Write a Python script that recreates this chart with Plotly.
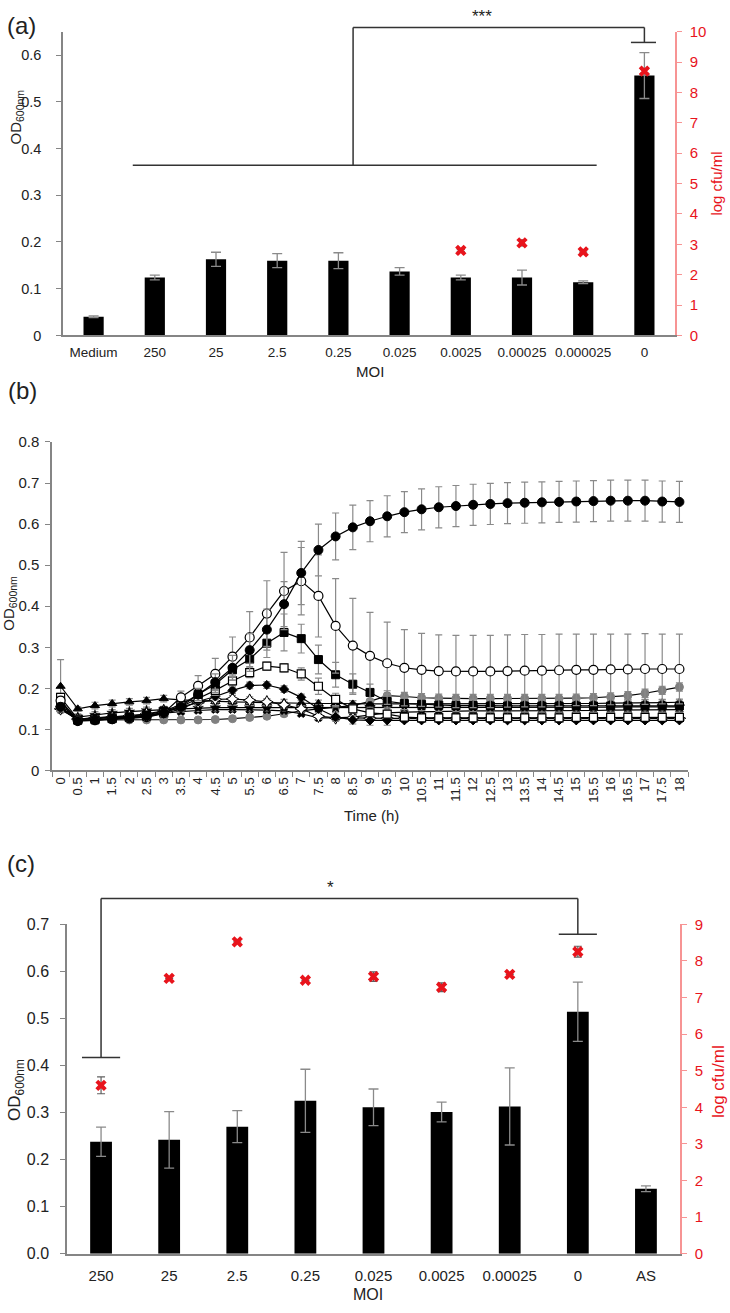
import plotly.graph_objects as go

W, H = 730, 1313

# ---------- panel (a) ----------
moi_a = ["Medium", "250", "25", "2.5", "0.25", "0.025", "0.0025", "0.00025", "0.000025", "0"]
od_a = [0.040, 0.124, 0.163, 0.160, 0.160, 0.137, 0.124, 0.124, 0.114, 0.556]
od_a_err = [0.002, 0.005, 0.015, 0.015, 0.017, 0.008, 0.005, 0.016, 0.003, 0.049]
cfu_a = [None, None, None, None, None, None, 2.8, 3.05, 2.75, 8.7]
cfu_a_err = [0, 0, 0, 0, 0, 0, 0.03, 0.1, 0.03, 0.06]

# ---------- panel (b) ----------
time_h = ["0", "0.5", "1", "1.5", "2", "2.5", "3", "3.5", "4", "4.5", "5", "5.5",
          "6", "6.5", "7", "7.5", "8", "8.5", "9", "9.5", "10", "10.5", "11", "11.5",
          "12", "12.5", "13", "13.5", "14", "14.5", "15", "15.5", "16", "16.5", "17",
          "17.5", "18"]

od_ctrl = [0.155, 0.120, 0.122, 0.125, 0.128, 0.132, 0.140, 0.155, 0.185, 0.215, 0.250, 0.293,
           0.343, 0.405, 0.481, 0.537, 0.570, 0.592, 0.607, 0.619, 0.629, 0.636, 0.641, 0.644,
           0.647, 0.649, 0.651, 0.652, 0.653, 0.654, 0.655, 0.656, 0.657, 0.657, 0.657, 0.655, 0.654]
od_ctrl_err = [0.010, 0.004, 0.004, 0.004, 0.005, 0.006, 0.008, 0.010, 0.015, 0.020, 0.030, 0.040,
               0.050, 0.055, 0.077, 0.063, 0.057, 0.054, 0.050, 0.050, 0.050, 0.050, 0.050, 0.050,
               0.050, 0.050, 0.050, 0.050, 0.050, 0.050, 0.050, 0.050, 0.050, 0.050, 0.050, 0.050, 0.050]

od_ocirc = [0.170, 0.122, 0.123, 0.125, 0.127, 0.130, 0.140, 0.178, 0.206, 0.235, 0.277, 0.324,
            0.382, 0.437, 0.461, 0.425, 0.352, 0.304, 0.279, 0.261, 0.250, 0.245, 0.242, 0.241,
            0.241, 0.241, 0.242, 0.243, 0.243, 0.244, 0.245, 0.245, 0.246, 0.246, 0.247, 0.247, 0.247]
od_ocirc_err = [0.010, 0.005, 0.005, 0.005, 0.005, 0.006, 0.008, 0.015, 0.025, 0.038, 0.048, 0.063,
                0.080, 0.094, 0.082, 0.100, 0.115, 0.115, 0.106, 0.100, 0.093, 0.089, 0.088, 0.088,
                0.088, 0.088, 0.088, 0.088, 0.088, 0.088, 0.087, 0.087, 0.086, 0.086, 0.086, 0.085, 0.085]

od_fsq = [0.168, 0.122, 0.123, 0.126, 0.130, 0.135, 0.145, 0.160, 0.185, 0.210, 0.245, 0.271,
          0.310, 0.336, 0.321, 0.270, 0.233, 0.210, 0.190, 0.168, 0.163, 0.161, 0.159, 0.158,
          0.158, 0.157, 0.157, 0.157, 0.157, 0.157, 0.157, 0.157, 0.157, 0.157, 0.157, 0.157, 0.157]
od_fsq_err = [0.010, 0.004, 0.004, 0.005, 0.005, 0.006, 0.008, 0.010, 0.015, 0.020, 0.025, 0.030,
              0.035, 0.045, 0.035, 0.035, 0.030, 0.025, 0.020, 0.018, 0.015, 0.015, 0.015, 0.015,
              0.015, 0.015, 0.015, 0.015, 0.015, 0.015, 0.015, 0.015, 0.015, 0.015, 0.015, 0.015, 0.015]

od_osq = [0.178, 0.125, 0.126, 0.128, 0.130, 0.133, 0.140, 0.155, 0.175, 0.195, 0.218, 0.238,
          0.254, 0.250, 0.235, 0.205, 0.173, 0.150, 0.140, 0.137, 0.130, 0.128, 0.128, 0.128,
          0.128, 0.128, 0.128, 0.128, 0.128, 0.128, 0.129, 0.129, 0.129, 0.129, 0.129, 0.129, 0.129]
od_osq_err = [0.010, 0.004, 0.004, 0.004, 0.005, 0.005, 0.006, 0.008, 0.010, 0.012, 0.012, 0.012,
              0.010, 0.010, 0.015, 0.020, 0.015, 0.010, 0.008, 0.006, 0.005, 0.005, 0.005, 0.005,
              0.005, 0.005, 0.005, 0.005, 0.005, 0.005, 0.005, 0.005, 0.005, 0.005, 0.005, 0.005, 0.005]

od_fdia = [0.152, 0.122, 0.123, 0.125, 0.128, 0.130, 0.138, 0.150, 0.168, 0.180, 0.195, 0.207,
           0.208, 0.198, 0.178, 0.150, 0.130, 0.123, 0.122, 0.122, 0.122, 0.122, 0.122, 0.122,
           0.122, 0.122, 0.122, 0.122, 0.122, 0.122, 0.122, 0.122, 0.122, 0.122, 0.122, 0.122, 0.122]
od_fdia_err = [0.008, 0.004, 0.004, 0.004, 0.004, 0.005, 0.006, 0.008, 0.008, 0.008, 0.008, 0.008,
               0.008, 0.008, 0.008, 0.010, 0.010, 0.010, 0.012, 0.012, 0.005, 0.005, 0.005, 0.005,
               0.005, 0.005, 0.005, 0.005, 0.005, 0.005, 0.005, 0.005, 0.005, 0.005, 0.005, 0.005, 0.005]

od_ostar = [0.150, 0.125, 0.128, 0.130, 0.133, 0.138, 0.145, 0.155, 0.165, 0.173, 0.174, 0.171,
            0.167, 0.160, 0.150, 0.132, 0.128, 0.128, 0.127, 0.127, 0.127, 0.127, 0.127, 0.127,
            0.127, 0.127, 0.127, 0.127, 0.127, 0.127, 0.127, 0.127, 0.127, 0.127, 0.127, 0.127, 0.127]
od_ostar_err = [0.008, 0.004, 0.004, 0.004, 0.005, 0.005, 0.006, 0.008, 0.008, 0.008, 0.008, 0.008,
                0.008, 0.008, 0.008, 0.008, 0.006, 0.006, 0.005, 0.005, 0.005, 0.005, 0.005, 0.005,
                0.005, 0.005, 0.005, 0.005, 0.005, 0.005, 0.005, 0.005, 0.005, 0.005, 0.005, 0.005, 0.005]

od_tri = [0.205, 0.150, 0.158, 0.163, 0.167, 0.170, 0.175, 0.172, 0.170, 0.168, 0.167, 0.166,
          0.165, 0.165, 0.164, 0.163, 0.163, 0.162, 0.162, 0.162, 0.162, 0.162, 0.162, 0.162,
          0.162, 0.162, 0.162, 0.162, 0.163, 0.163, 0.163, 0.163, 0.164, 0.164, 0.165, 0.165, 0.166]
od_tri_err = [0.065, 0.005, 0.008, 0.008, 0.008, 0.008, 0.008, 0.008, 0.008, 0.008, 0.008, 0.008,
              0.008, 0.008, 0.008, 0.008, 0.008, 0.008, 0.008, 0.008, 0.008, 0.008, 0.008, 0.008,
              0.008, 0.008, 0.008, 0.008, 0.008, 0.008, 0.008, 0.008, 0.008, 0.008, 0.008, 0.008, 0.008]

od_cross = [0.148, 0.125, 0.128, 0.130, 0.133, 0.136, 0.140, 0.143, 0.146, 0.148, 0.148, 0.148,
            0.147, 0.145, 0.138, 0.128, 0.128, 0.130, 0.135, 0.140, 0.142, 0.143, 0.144, 0.144,
            0.145, 0.145, 0.145, 0.145, 0.146, 0.146, 0.146, 0.146, 0.147, 0.147, 0.147, 0.147, 0.148]
od_cross_err = [0.006] * 37

od_star = [0.152, 0.130, 0.135, 0.140, 0.143, 0.146, 0.148, 0.150, 0.152, 0.153, 0.153, 0.153,
           0.153, 0.153, 0.153, 0.153, 0.153, 0.153, 0.153, 0.153, 0.153, 0.153, 0.153, 0.153,
           0.153, 0.153, 0.153, 0.153, 0.153, 0.154, 0.154, 0.154, 0.154, 0.155, 0.155, 0.155, 0.155]
od_star_err = [0.008] * 37

od_gray = [0.162, 0.122, 0.123, 0.123, 0.123, 0.123, 0.123, 0.123, 0.123, 0.124, 0.126, 0.129,
           0.132, 0.138, 0.145, 0.150, 0.154, 0.158, 0.168, 0.182, 0.180, 0.177, 0.176, 0.175,
           0.175, 0.175, 0.175, 0.175, 0.175, 0.175, 0.176, 0.177, 0.179, 0.182, 0.188, 0.195, 0.203]
od_gray_err = [0.008, 0.004, 0.003, 0.003, 0.003, 0.003, 0.003, 0.003, 0.003, 0.003, 0.003, 0.004,
               0.005, 0.006, 0.008, 0.010, 0.012, 0.012, 0.012, 0.012, 0.010, 0.010, 0.010, 0.010,
               0.010, 0.010, 0.010, 0.010, 0.010, 0.010, 0.010, 0.010, 0.010, 0.010, 0.010, 0.010, 0.010]

# ---------- panel (c) ----------
moi_c = ["250", "25", "2.5", "0.25", "0.025", "0.0025", "0.00025", "0", "AS"]
od_c = [0.238, 0.242, 0.270, 0.325, 0.311, 0.301, 0.313, 0.514, 0.138]
od_c_err = [0.031, 0.060, 0.034, 0.067, 0.039, 0.021, 0.082, 0.063, 0.006]
cfu_c = [4.6, 7.52, 8.52, 7.47, 7.57, 7.28, 7.63, 8.25, None]
cfu_c_err = [0.23, 0, 0, 0, 0.13, 0.12, 0, 0.15, 0]

FONT = "Arial, Liberation Sans, sans-serif"
RED = "#e8141c"
AXC = "#858585"
ERRC = "#8a8a8a"


def px(x):
    return x / W


def py(y):
    return 1 - y / H


# axis domains (pixels -> paper)
xa_dom = [px(63), px(675)]
ya_dom = [py(331), py(23)]
xb_dom = [px(52), px(688)]
yb_dom = [py(772), py(439)]
xc_dom = [px(67), px(680)]
yc_dom = [py(1262), py(928)]

fig = go.Figure()

# (a)
fig.add_trace(go.Bar(x=moi_a, y=od_a, width=0.33, marker=dict(color="black", line=dict(width=0)),
                     error_y=dict(type="data", array=od_a_err, color=ERRC, thickness=1.3, width=5),
                     xaxis="x", yaxis="y"))
fig.add_trace(go.Scatter(x=moi_a, y=cfu_a, mode="markers",
                         marker=dict(symbol="x", size=10, color=RED, line=dict(width=0)),
                         error_y=dict(type="data", array=cfu_a_err, color="#606060", thickness=1.2, width=4),
                         xaxis="x", yaxis="y2"))

# (b)
series_b = [
    (od_gray, od_gray_err, dict(symbol="circle", size=8, color="#808080", line=dict(color="#808080", width=1))),
    (od_cross, od_cross_err, dict(symbol="x", size=7, color="black", line=dict(color="black", width=0.5))),
    (od_star, od_star_err, dict(symbol="star", size=8, color="black", line=dict(color="black", width=0.5))),
    (od_tri, od_tri_err, dict(symbol="triangle-up", size=8, color="black", line=dict(color="black", width=1))),
    (od_ostar, od_ostar_err, dict(symbol="star-diamond", size=9, color="white", line=dict(color="black", width=1))),
    (od_fdia, od_fdia_err, dict(symbol="diamond", size=7, color="black", line=dict(color="black", width=1))),
    (od_osq, od_osq_err, dict(symbol="square", size=8, color="white", line=dict(color="black", width=1.2))),
    (od_fsq, od_fsq_err, dict(symbol="square", size=8, color="black", line=dict(color="black", width=1))),
    (od_ocirc, od_ocirc_err, dict(symbol="circle", size=9, color="white", line=dict(color="black", width=1.2))),
    (od_ctrl, od_ctrl_err, dict(symbol="circle", size=9, color="black", line=dict(color="black", width=1))),
]
for vals, errs, mk in series_b:
    fig.add_trace(go.Scatter(x=time_h, y=vals, mode="lines+markers",
                             line=dict(color="black", width=1.2), marker=mk,
                             error_y=dict(type="data", array=errs, color=ERRC, thickness=1.2, width=3.5),
                             xaxis="x2", yaxis="y3"))

# (c)
fig.add_trace(go.Bar(x=moi_c, y=od_c, width=0.32, marker=dict(color="black", line=dict(width=0)),
                     error_y=dict(type="data", array=od_c_err, color=ERRC, thickness=1.3, width=5),
                     xaxis="x3", yaxis="y4"))
fig.add_trace(go.Scatter(x=moi_c, y=cfu_c, mode="markers",
                         marker=dict(symbol="x", size=10, color=RED, line=dict(width=0)),
                         error_y=dict(type="data", array=cfu_c_err, color="#606060", thickness=1.2, width=4),
                         xaxis="x3", yaxis="y5"))

base_ax = dict(showgrid=False, zeroline=False, showline=True, linecolor=AXC, linewidth=1.5,
               tickcolor=AXC, tickwidth=1.2, tickfont=dict(family=FONT, size=15, color="#222"))
red_ax = dict(linecolor="rgba(240,60,60,0.55)", tickcolor="rgba(240,60,60,0.55)",
              tickfont=dict(family=FONT, size=15, color=RED))

fig.update_layout(
    width=W, height=H, margin=dict(l=0, r=0, t=0, b=0), autosize=False,
    paper_bgcolor="white", plot_bgcolor="white", showlegend=False,
    font=dict(family=FONT, color="#222"),
    xaxis=dict(base_ax, domain=xa_dom, anchor="y", type="category", range=[-0.5, 9.5],
               ticks="", tickfont=dict(family=FONT, size=13.5, color="#222"), ticklabelstandoff=4),
    yaxis=dict(base_ax, domain=ya_dom, anchor="x", range=[0, 0.65], dtick=0.1, tick0=0,
               ticks="outside", ticklen=5, ticklabelstandoff=12,
               tickfont=dict(family=FONT, size=14.5, color="#222")),
    yaxis2=dict(base_ax, overlaying="y", side="right", anchor="x", range=[0, 10], dtick=1,
                ticks="outside", ticklen=5, ticklabelstandoff=5, **red_ax),
    xaxis2=dict(base_ax, domain=xb_dom, anchor="y3", type="category", range=[-0.5, 36.5],
                ticks="outside", ticklen=5, tickson="boundaries", tickangle=-90,
                tickfont=dict(family=FONT, size=13, color="#222")),
    yaxis3=dict(base_ax, domain=yb_dom, anchor="x2", range=[0, 0.8], dtick=0.1, tick0=0,
                ticks="outside", ticklen=5, ticklabelstandoff=3),
    xaxis3=dict(base_ax, domain=xc_dom, anchor="y4", type="category", range=[-0.5, 8.5],
                ticks="", tickfont=dict(family=FONT, size=15, color="#222"), ticklabelstandoff=8),
    yaxis4=dict(base_ax, domain=yc_dom, anchor="x3", range=[0, 0.7], dtick=0.1, tick0=0,
                tickformat=".1f", ticks="outside", ticklen=5, ticklabelstandoff=8,
                tickfont=dict(family=FONT, size=16, color="#222")),
    yaxis5=dict(base_ax, overlaying="y4", side="right", anchor="x3", range=[0, 9], dtick=1,
                ticks="outside", ticklen=5, ticklabelstandoff=5, **red_ax),
)


# significance brackets (category index / OD units converted to paper coords)
def to_paper(i, v, xdom, ydom, n, ymax):
    x = xdom[0] + (i + 0.5) / n * (xdom[1] - xdom[0])
    y = ydom[0] + v / ymax * (ydom[1] - ydom[0])
    return x, y


def seg(i0, v0, i1, v1, xdom, ydom, n, ymax):
    x0, y0 = to_paper(i0, v0, xdom, ydom, n, ymax)
    x1, y1 = to_paper(i1, v1, xdom, ydom, n, ymax)
    fig.add_shape(type="line", xref="paper", yref="paper", x0=x0, y0=y0, x1=x1, y1=y1,
                  line=dict(color="#333", width=1.5))


# (a) brackets
for s in [(0.64, 0.364, 8.22, 0.364), (4.24, 0.364, 4.24, 0.659), (4.24, 0.659, 9.0, 0.659),
          (9.0, 0.659, 9.0, 0.627), (8.78, 0.627, 9.19, 0.627)]:
    seg(*s, xa_dom, ya_dom, 10, 0.65)
# (c) brackets
for s in [(0.0, 0.755, 7.0, 0.755), (0.0, 0.755, 0.0, 0.417), (-0.28, 0.417, 0.28, 0.417),
          (7.0, 0.755, 7.0, 0.679), (6.72, 0.679, 7.28, 0.679)]:
    seg(*s, xc_dom, yc_dom, 9, 0.7)

ann = [
    dict(text="(a)", x=px(21), y=py(17), font=dict(size=24)),
    dict(text="(b)", x=px(22), y=py(387), font=dict(size=24)),
    dict(text="(c)", x=px(21), y=py(866), font=dict(size=24)),
    dict(text="OD<sub>600nm</sub>", x=px(16), y=py(110), textangle=-90, font=dict(size=15)),
    dict(text="log cfu/ml", x=px(717), y=py(177), textangle=-90, font=dict(size=15, color=RED)),
    dict(text="MOI", x=px(370), y=py(368), font=dict(size=15)),
    dict(text="OD<sub>600nm</sub>", x=px(10), y=py(603), textangle=-90, font=dict(size=15)),
    dict(text="Time (h)", x=px(371), y=py(818), font=dict(size=15)),
    dict(text="OD<sub>600nm</sub>", x=px(16), y=py(1096), textangle=-90, font=dict(size=17)),
    dict(text="log cfu/ml", x=px(718), y=py(1088), textangle=-90, font=dict(size=17, color=RED)),
    dict(text="MOI", x=px(368), y=py(1303), font=dict(size=16)),
    dict(text="***", x=px(482), y=py(19), yanchor="bottom", font=dict(size=17)),
    dict(text="*", x=px(330), y=py(902), yanchor="bottom", font=dict(size=17)),
]
for a in ann:
    a.setdefault("yanchor", "middle")
    a["font"].setdefault("color", "#222")
    a["font"]["family"] = FONT
    fig.add_annotation(xref="paper", yref="paper", showarrow=False, xanchor="center", **a)

fig.write_html("out.html", config={"displayModeBar": False},
               post_script="document.body.style.margin='0';document.body.style.overflow='hidden';")
